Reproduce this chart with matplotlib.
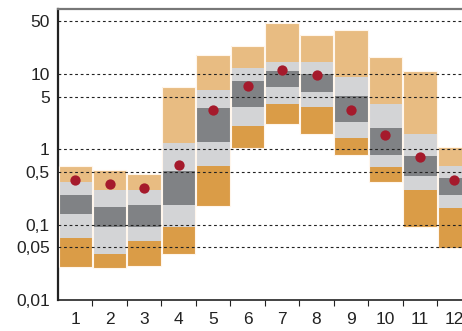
import numpy as np
import matplotlib.pyplot as plt
from matplotlib.ticker import FixedLocator, NullLocator

months = list(range(1, 13))

# band edges, bottom to top
p_low = [0.0274, 0.0266, 0.0283, 0.0413, 0.176, 1.03, 2.20, 1.62, 0.847, 0.368, 0.093, 0.0492]
p_mid_low = [0.0656, 0.0413, 0.061, 0.092, 0.61, 2.05, 4.04, 3.61, 1.43, 0.585, 0.285, 0.169]
q_low = [0.140, 0.094, 0.094, 0.184, 1.24, 3.61, 6.82, 5.85, 2.32, 0.839, 0.443, 0.25]
q_high = [0.245, 0.174, 0.184, 0.512, 3.50, 8.2, 10.9, 10.1, 5.12, 1.93, 0.813, 0.413]
p_mid_high = [0.365, 0.288, 0.288, 1.20, 6.22, 12.1, 14.3, 14.3, 9.2, 4.0, 1.60, 0.598]
p_high = [0.61, 0.528, 0.467, 6.68, 17.9, 23.6, 47.6, 32.9, 38.3, 16.7, 11.1, 1.07]
centre = [0.388, 0.346, 0.306, 0.622, 3.29, 6.89, 11.3, 9.58, 3.29, 1.57, 0.789, 0.388]

grid_values = [0.05, 0.1, 0.5, 1, 5, 10, 50]
tick_values = [0.01, 0.05, 0.1, 0.5, 1, 5, 10, 50]
tick_labels = ["0,01", "0,05", "0,1", "0,5", "1", "5", "10", "50"]

LIGHT_ORANGE = "#E8BC82"
DARK_ORANGE = "#DA9C47"
LIGHT_GREY = "#D3D4D6"
DARK_GREY = "#808285"
DOT_RED = "#A51A2C"

plt.rcParams["font.family"] = ["Liberation Sans Narrow", "Liberation Sans", "DejaVu Sans"]

fig = plt.figure(figsize=(4.62, 3.31), dpi=100)
ax = fig.add_axes([58 / 462, 31 / 331, 1 - 58 / 462, 291 / 331])
ax.set_yscale("log")
ax.set_ylim(0.01, 73)
ax.set_xlim(0.5, 12.22)

x = np.array(months)
layers = [
    (p_low, p_mid_low, DARK_ORANGE),
    (p_mid_low, q_low, LIGHT_GREY),
    (q_low, q_high, DARK_GREY),
    (q_high, p_mid_high, LIGHT_GREY),
    (p_mid_high, p_high, LIGHT_ORANGE),
]
for lo, hi, col in layers:
    lo = np.array(lo)
    hi = np.array(hi)
    ax.bar(x, hi - lo, bottom=lo, width=0.97, color=col, edgecolor="none", zorder=2)

# thin white outline round each box
lo_all = np.array(p_low)
hi_all = np.array(p_high)
ax.bar(x, hi_all - lo_all, bottom=lo_all, width=0.97, color="none",
       edgecolor="#FFF6EC", linewidth=0.8, zorder=3)

ax.scatter(x, centre, s=55, color=DOT_RED, zorder=5, linewidths=0)

for g in grid_values:
    ax.axhline(g, color="#222222", linestyle=(0, (2.5, 2.5)), linewidth=0.8, zorder=4)

ax.yaxis.set_major_locator(FixedLocator(tick_values))
ax.yaxis.set_minor_locator(NullLocator())
ax.set_yticklabels(tick_labels)
ax.tick_params(axis="y", length=0, pad=6, labelsize=12.5, colors="#222222")

ax.set_xticks(x)
ax.set_xticklabels([str(m) for m in months])
ax.tick_params(axis="x", length=0, pad=9, labelsize=12.5, colors="#222222")
ax.set_xticks(np.arange(1.5, 12.5, 1), minor=True)
ax.tick_params(axis="x", which="minor", length=4, width=0.8, direction="out", color="#222222")

ax.spines["right"].set_visible(False)
ax.spines["top"].set_color("#777777")
ax.spines["top"].set_linewidth(1.6)
ax.spines["left"].set_color("#222222")
ax.spines["left"].set_linewidth(1.6)
ax.spines["bottom"].set_color("#222222")
ax.spines["bottom"].set_linewidth(1.2)

fig.savefig("out.png", dpi=100)
